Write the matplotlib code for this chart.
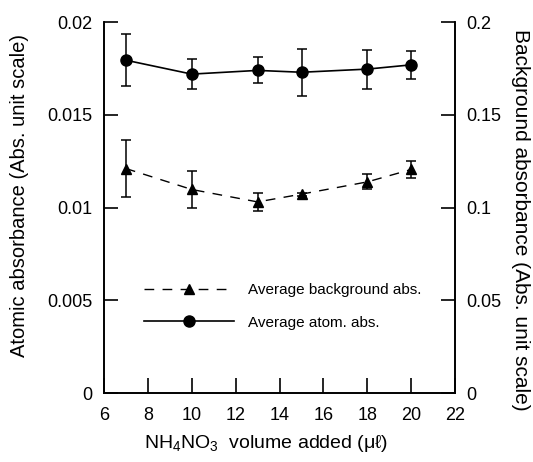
import matplotlib
matplotlib.use("Agg")
import matplotlib.pyplot as plt
from matplotlib.lines import Line2D

plt.rcParams['font.family'] = ['Liberation Sans', 'DejaVu Sans']

volume = [7, 10, 13, 15, 18, 20]
atom_abs = [0.01795, 0.0172, 0.0174, 0.0173, 0.01747, 0.0177]
atom_err = [0.0014, 0.0008, 0.0007, 0.00128, 0.00105, 0.00076]
bg_abs = [0.1211, 0.1098, 0.1031, 0.1073, 0.1139, 0.1206]
bg_err = [0.0155, 0.0100, 0.0047, 0.0008, 0.0040, 0.0045]

xticks = [6, 8, 10, 12, 14, 16, 18, 20, 22]
left_ticks = [0, 0.005, 0.01, 0.015, 0.02]
left_labels = ['0', '0.005', '0.01', '0.015', '0.02']
right_ticks = [0, 0.05, 0.1, 0.15, 0.2]
right_labels = ['0', '0.05', '0.1', '0.15', '0.2']

fig = plt.figure(figsize=(5.33, 4.62), dpi=100)
ax = fig.add_axes([0.195, 0.149, 0.659, 0.803])
ax2 = ax.twinx()

ax.errorbar(volume, atom_abs, yerr=atom_err, color='black', lw=1.2,
            marker='o', markersize=8, capsize=3.8, elinewidth=1.1, capthick=1.1)
ax2.errorbar(volume, bg_abs, yerr=bg_err, color='black', lw=1.0,
             linestyle=(0, (7, 6)), marker='^', markersize=6.5,
             capsize=3.8, elinewidth=1.1, capthick=1.1)

ax.set_xlim(6, 22)
ax.set_ylim(0, 0.02)
ax2.set_ylim(0, 0.2)
ax.set_xticks(xticks)
ax.set_xticklabels([str(t) for t in xticks])
ax.set_yticks(left_ticks)
ax.set_yticklabels(left_labels)
ax2.set_yticks(right_ticks)
ax2.set_yticklabels(right_labels)

for a in (ax, ax2):
    a.spines['top'].set_visible(False)
    for s in a.spines.values():
        s.set_linewidth(1.2)
ax.tick_params(axis='both', direction='in', length=10, width=1.2, labelsize=13, pad=8)
ax.tick_params(axis='x', length=11, pad=10)
ax2.tick_params(axis='y', direction='in', length=10, width=1.2, labelsize=13, pad=8)

ax.set_xlabel('NH$_\\mathregular{4}$NO$_\\mathregular{3}$  volume added (μℓ)', fontsize=14, va='center')
ax.xaxis.set_label_coords(0.4615, -0.135)
ax.set_ylabel('Atomic absorbance (Abs. unit scale)', fontsize=14.5, va='center')
ax.yaxis.set_label_coords(-0.239, 0.534)
ax2.set_ylabel('Background absorbance (Abs. unit scale)', fontsize=15, rotation=270)
ax2.yaxis.label.set_verticalalignment('center')
ax2.yaxis.set_label_coords(1.185, 0.466)

handles = [
    Line2D([], [], color='black', lw=1.0, linestyle=(0, (7, 6)), marker='^', markersize=6.5),
    Line2D([], [], color='black', lw=1.2, marker='o', markersize=8),
]
labels = ['Average background abs.', 'Average atom. abs.']
ax2.legend(handles, labels, loc='center left', bbox_to_anchor=(0.091, 0.234),
           frameon=False, fontsize=11, handlelength=5.9, handletextpad=0.95,
           labelspacing=1.2, borderpad=0)

fig.savefig('out.png', dpi=100)
